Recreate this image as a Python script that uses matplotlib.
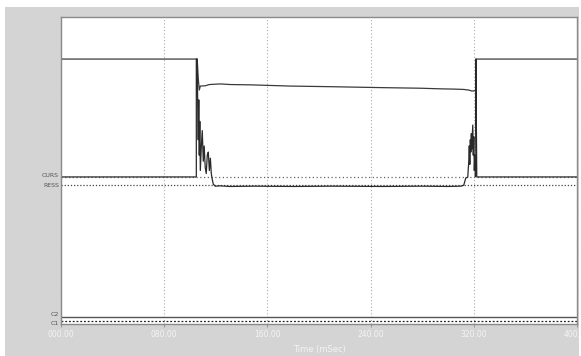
import matplotlib.pyplot as plt
from matplotlib.patches import Rectangle

# time axis (mSec)
x_ticks = [0, 80, 160, 240, 320, 400]

# reference levels (% of full scale)
curs_level = 47.9
ress_level = 45.4
c2_level = 2.3
c1_level = 1.0
high_level = 86.3

# trace 1: high outside the pulse, sags to ~77 inside it
t1 = [0, 104.9, 105.6, 106.4, 107.2, 108.0, 111.8, 115.0, 123.5, 131.3, 146.8,
      177.9, 208.9, 247.8, 278.8, 294.4, 306.0, 312.2, 316.1, 318.4, 320.0,
      320.8, 321.6, 321.6, 400]
v1 = [86.3, 86.3, 86.3, 80.0, 76.2, 77.5, 77.6, 78.0, 78.2, 78.0, 77.9,
      77.5, 77.3, 77.0, 76.8, 76.6, 76.5, 76.4, 76.2, 75.9, 75.9,
      76.1, 76.3, 86.3, 86.3]

# trace 2: sits on CURS outside the pulse, rings down to RESS inside it
t2 = [0, 104.9, 104.9, 105.6, 106.0, 106.4, 106.8, 107.2, 107.6, 108.0, 108.8,
      109.5, 110.3, 111.0, 111.8, 112.6, 113.4, 114.2, 115.0, 115.8, 116.5,
      117.3, 118.1, 119.6, 123.5, 131.0, 150.0, 180.0, 210.0, 250.0, 280.0,
      300.0, 310.0, 312.2, 313.8, 315.3, 316.1, 316.5, 316.9, 317.3, 317.7,
      318.1, 318.4, 319.2, 319.6, 320.0, 320.4, 320.8, 321.2, 321.6, 321.6,
      322.3, 400]
v2 = [47.9, 47.9, 86.3, 86.3, 70.0, 60.0, 73.0, 55.0, 66.0, 50.0, 58.0,
      63.0, 53.0, 58.0, 51.0, 49.0, 55.0, 56.0, 50.0, 54.0, 49.0,
      47.0, 45.5, 44.9, 45.0, 44.8, 44.9, 44.8, 44.9, 44.8, 44.9,
      44.8, 44.9, 45.2, 47.6, 47.8, 53.0, 58.0, 52.0, 60.0, 56.0,
      62.0, 57.0, 64.8, 55.0, 61.0, 50.0, 55.0, 48.0, 49.2, 86.3,
      47.9, 47.9]

W, H = 581, 356
fig = plt.figure(figsize=(W / 100, H / 100), dpi=100)
fig.patch.set_facecolor("white")
fig.add_artist(Rectangle((5 / W, 0), 574 / W, (H - 7) / H,
                         transform=fig.transFigure, facecolor="#d4d4d4",
                         edgecolor="none", zorder=0))

ax = fig.add_axes([61 / W, (H - 324) / H, 516 / W, 307 / H])
ax.set_facecolor("white")
ax.set_xlim(0, 400)
ax.set_ylim(0, 100)

# cursor / reference lines
ax.axhline(curs_level, color="#666666", lw=0.9, ls=(0, (1, 2)))
ax.axhline(ress_level, color="#444444", lw=0.9, ls=(0, (1, 1.5)))
ax.axhline(c2_level, color="#555555", lw=1.0)
ax.axhline(c1_level, color="#222222", lw=0.9, ls=(0, (1.5, 1.5)))

ax.plot(t1, v1, color="#3a3a3a", lw=0.9)
ax.plot(t2, v2, color="#2a2a2a", lw=0.9)

ax.set_xticks(x_ticks)
ax.set_xticklabels([f"{v:06.2f}" for v in x_ticks])
ax.set_yticks([])
ax.tick_params(axis="x", length=2, color="#999999", labelsize=5.5,
               labelcolor="#f4f4f4", pad=2.5)
ax.grid(axis="x", color="#aaaaaa", ls=(0, (1, 2)), lw=0.8)
ax.set_xlabel("Time (mSec)", color="#f4f4f4", fontsize=6, labelpad=4)
for s in ax.spines.values():
    s.set_color("#8a8a8a")
    s.set_linewidth(1.0)

# channel names on the left edge
for name, lvl, dy in [("CURS", curs_level, 0.4), ("RESS", ress_level, -0.4),
                      ("C2", c2_level, 0.8), ("C1", c1_level, -0.8)]:
    ax.text(-1.5, lvl + dy, name, ha="right", va="center", fontsize=4.5,
            color="#555555", clip_on=False)

fig.savefig("out.png", dpi=100)
